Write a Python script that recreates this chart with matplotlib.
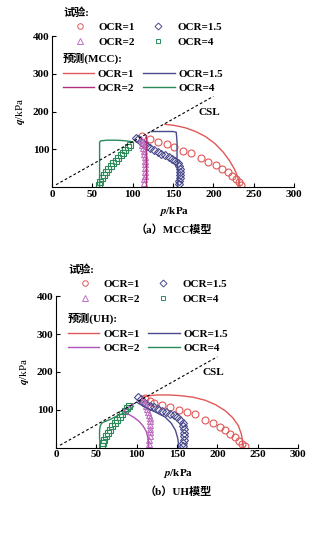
import matplotlib.pyplot as plt
from matplotlib.lines import Line2D

plt.rcParams['font.family'] = ['Liberation Serif', 'Noto Sans CJK SC', 'DejaVu Sans']
plt.rcParams['font.size'] = 8
plt.rcParams['font.weight'] = 'bold'
plt.rcParams['mathtext.fontset'] = 'stix'

# ---- test data ----
# OCR=1
t1_p_a = [112, 121, 132, 142, 151, 162, 172, 185, 194, 203, 211, 218, 223, 228, 232, 234]
t1_q_a = [134, 127, 120, 113, 105, 96, 89, 76, 67, 57, 48, 39, 30, 22, 14, 6]
# OCR=1.5
t15_p_a = [104, 107, 110, 114, 118, 122, 126, 131, 135, 140, 145, 149, 153, 156, 158, 159, 159, 159, 159, 158, 157]
t15_q_a = [131, 126, 120, 114, 108, 103, 98, 93, 88, 84, 80, 75, 70, 63, 55, 47, 39, 31, 23, 15, 7]
# OCR=2
t2_p_a = [110, 111, 112, 113, 114, 114, 115, 115, 115, 115, 115, 115, 114, 114]
t2_q_a = [128, 120, 112, 104, 96, 88, 80, 70, 60, 50, 40, 30, 20, 10]
# OCR=4
t4_p_a = [58, 60, 62, 64, 67, 70, 73, 76, 79, 82, 85, 88, 91, 94, 97]
t4_q_a = [4, 14, 23, 32, 40, 48, 56, 63, 70, 77, 84, 91, 98, 105, 111]

t1_p_b = [110, 116, 121, 131, 141, 152, 162, 172, 185, 195, 203, 210, 216, 222, 227, 231, 234]
t1_q_b = [131, 124, 118, 112, 106, 100, 94, 88, 74, 65, 55, 46, 37, 27, 18, 9, 3]
t15_p_b = [102, 105, 108, 112, 116, 121, 126, 131, 136, 141, 146, 150, 154, 157, 158, 159, 159, 159, 159, 158, 157]
t15_q_b = [133, 127, 121, 116, 111, 106, 102, 97, 93, 89, 85, 80, 74, 66, 57, 48, 39, 30, 21, 12, 4]
t2_p_b = [108, 110, 112, 113, 114, 115, 116, 116, 116, 116, 116, 116, 115, 115]
t2_q_b = [126, 118, 110, 102, 94, 86, 78, 69, 60, 50, 40, 30, 20, 10]
t4_p_b = [57, 58, 60, 62, 64, 67, 70, 73, 76, 79, 82, 85, 88, 90]
t4_q_b = [3, 12, 21, 30, 38, 47, 56, 64, 72, 80, 88, 96, 104, 110]

# ---- MCC predictions ----
m1_p = [233, 232, 230, 226, 220, 212, 202, 190, 178, 165, 152, 140]
m1_q = [0, 12, 28, 48, 70, 93, 115, 134, 147, 157, 163, 166]
m15_p = [156, 156, 155, 155, 154, 150, 140, 130, 123]
m15_q = [0, 40, 80, 120, 145, 147, 147, 147, 147]
m2_p = [116, 116, 116, 116]
m2_q = [0, 60, 120, 139]
m4_p = [59, 59, 59, 60, 68, 78, 88, 96, 100]
m4_q = [0, 60, 118, 122, 124, 124, 123, 121, 120]

# ---- UH predictions ----
u1_p = [233, 232, 230, 226, 219, 210, 198, 185, 170, 155, 140, 125, 115, 108]
u1_q = [0, 5, 34, 58, 79, 97, 113, 125, 133, 137, 139, 139, 137, 133]
u15_p = [152, 152, 151, 148, 143, 135, 123, 110, 100]
u15_q = [0, 5, 24, 46, 64, 81, 94, 107, 120]
u2_p = [115, 115, 114, 112, 108, 103, 97, 90, 84, 86, 91, 96]
u2_q = [0, 7, 25, 42, 57, 69, 79, 88, 95, 101, 108, 115]
u4_p = [55, 55, 54, 54, 55, 57, 62, 67, 77, 88, 96]
u4_q = [0, 2, 24, 46, 58, 65, 70, 74, 85, 94, 109]

csl_p = [5, 200]
csl_M = 1.2

xticks = [0, 50, 100, 150, 200, 250, 300]
yticks = [100, 200, 300, 400]

c_red = '#e05858'
c_blue = '#4a4a8e'
c_mag_a = '#b0307f'
c_mag_b = '#b055b8'
c_tri = '#c070c0'
c_green = '#2a8a5a'

W, H = 336, 536
fig = plt.figure(figsize=(W / 100, H / 100), dpi=100)


def fx(px):
    return px / W


def fy(py):
    return 1 - py / H


def panel(ax_rect, tests, preds, mag, pred_name, title, leg_x, leg_y1, leg_y2, title_xy, xlab_y):
    ax = fig.add_axes(ax_rect)
    (p1, q1), (p15, q15), (p2, q2), (p4, q4) = tests
    (l1p, l1q), (l15p, l15q), (l2p, l2q), (l4p, l4q) = preds
    ax.plot(p1, q1, 'o', mfc='none', mec=c_red, ms=5, mew=0.8)
    ax.plot(p15, q15, 'D', mfc='none', mec=c_blue, ms=4, mew=0.8)
    ax.plot(p2, q2, '^', mfc='none', mec=c_tri, ms=4.8, mew=0.8)
    ax.plot(p4, q4, 's', mfc='none', mec=c_green, ms=4.4, mew=0.8)
    ax.plot(l1p, l1q, color=c_red, lw=1)
    ax.plot(l15p, l15q, color=c_blue, lw=1)
    ax.plot(l2p, l2q, color=mag, lw=1)
    ax.plot(l4p, l4q, color=c_green, lw=1)
    ax.plot(csl_p, [csl_M * v for v in csl_p], 'k--', lw=0.8, dashes=(2.5, 2))
    ax.text(195, 198, 'CSL', ha='center', va='center', fontsize=8)
    ax.set_xlim(0, 300)
    ax.set_ylim(0, 400)
    ax.set_xticks(xticks)
    ax.set_yticks(yticks)
    ax.tick_params(direction='in', length=3, width=0.8, labelsize=8, pad=2)
    for s in ['top', 'right']:
        ax.spines[s].set_visible(False)
    for s in ['left', 'bottom']:
        ax.spines[s].set_linewidth(0.8)
    ax.set_ylabel(r'$q$/kPa', labelpad=4)
    fig.text(fx(title_xy[0]), fy(xlab_y), r'$p$/kPa', ha='center', va='center', fontsize=8)
    fig.text(fx(title_xy[0]), fy(title_xy[1]), title, ha='center', va='center', fontsize=8)

    mh = [Line2D([], [], ls='none', marker='o', mfc='none', mec=c_red, ms=4, mew=0.7),
          Line2D([], [], ls='none', marker='^', mfc='none', mec=c_tri, ms=4, mew=0.7),
          Line2D([], [], ls='none', marker='D', mfc='none', mec=c_blue, ms=3.5, mew=0.7),
          Line2D([], [], ls='none', marker='s', mfc='none', mec=c_green, ms=3.5, mew=0.7)]
    lab = ['OCR=1', 'OCR=2', 'OCR=1.5', 'OCR=4']
    fig.legend(mh, lab, title='试验:', ncol=2, loc='upper left',
               bbox_to_anchor=(fx(leg_x), fy(leg_y1)), frameon=False,
               borderpad=0, borderaxespad=0, handlelength=3.0, handletextpad=0.2,
               columnspacing=0.6, labelspacing=0.45, alignment='left',
               fontsize=8, title_fontsize=8)
    lh = [Line2D([], [], color=c_red, lw=1), Line2D([], [], color=mag, lw=1),
          Line2D([], [], color=c_blue, lw=1), Line2D([], [], color=c_green, lw=1)]
    fig.legend(lh, lab, title=pred_name, ncol=2, loc='upper left',
               bbox_to_anchor=(fx(leg_x), fy(leg_y2)), frameon=False,
               borderpad=0, borderaxespad=0, handlelength=2.8, handletextpad=0.35,
               columnspacing=0.8, labelspacing=0.4, alignment='left',
               fontsize=8, title_fontsize=8)
    return ax


panel([fx(52), fy(187), 242 / W, (187 - 36) / H],
      [(t1_p_a, t1_q_a), (t15_p_a, t15_q_a), (t2_p_a, t2_q_a), (t4_p_a, t4_q_a)],
      [(m1_p, m1_q), (m15_p, m15_q), (m2_p, m2_q), (m4_p, m4_q)],
      c_mag_a, '预测(MCC):', '（a）MCC模型', 63, 7, 53, (174, 230), 211)

panel([fx(56), fy(447.5), 242 / W, (447.5 - 296.3) / H],
      [(t1_p_b, t1_q_b), (t15_p_b, t15_q_b), (t2_p_b, t2_q_b), (t4_p_b, t4_q_b)],
      [(u1_p, u1_q), (u15_p, u15_q), (u2_p, u2_q), (u4_p, u4_q)],
      c_mag_b, '预测(UH):', '（b）UH模型', 68, 264, 313, (178, 492), 473)

fig.savefig('out.png', dpi=100)
